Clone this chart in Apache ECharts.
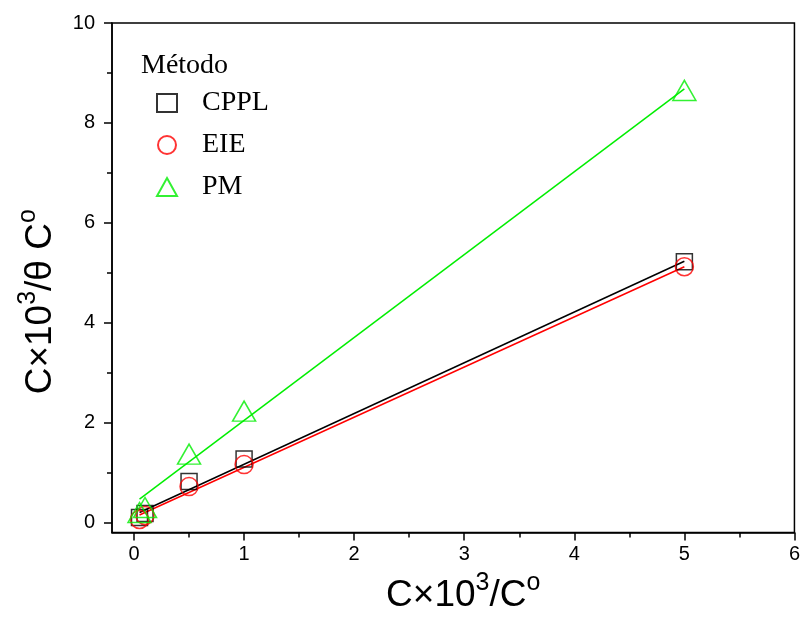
<!DOCTYPE html>
<html>
<head>
<meta charset="utf-8">
<script src="https://cdn.jsdelivr.net/npm/echarts@6/dist/echarts.min.js"></script>
<style>html,body{margin:0;padding:0;background:#fff;}#c{width:803px;height:619px;}</style>
</head>
<body>
<div id="c"></div>
<script>
// ---- data ----
var xValues = [0.05, 0.1, 0.5, 1, 5];
var cpplValues = [0.1, 0.18, 0.82, 1.27, 5.22];
var eieValues = [0.06, 0.14, 0.72, 1.16, 5.12];
var pmValues = [0.2, 0.3, 1.37, 2.23, 8.65];
// fitted straight lines, endpoints
var fitX = [0.05, 5];
var cpplFit = [0.2, 5.23];
var eieFit = [0.15, 5.12];
var pmFit = [0.47, 8.68];
var xTicks = [0, 1, 2, 3, 4, 5, 6];
var xMinorTicks = [0.5, 1.5, 2.5, 3.5, 4.5, 5.5];
var yTicks = [0, 2, 4, 6, 8, 10];
var yMinorTicks = [1, 3, 5, 7, 9];
var seriesNames = ['CPPL', 'EIE', 'PM'];
var legendTitle = 'Método';

function pairs(xs, ys) { return xs.map(function (x, i) { return [x, ys[i]]; }); }

var sans = 'Liberation Sans, Arial, sans-serif';
var serif = 'Liberation Serif, Times New Roman, serif';
var colors = ['#000000', '#ff0000', '#00ee00'];

function titleRich() {
  return {
    b: { fontSize: 37, fontFamily: sans, color: '#000', lineHeight: 50 },
    s: { fontSize: 25, fontFamily: sans, color: '#000', lineHeight: 24, verticalAlign: 'top' }
  };
}

var chart = echarts.init(document.getElementById('c'), null, { renderer: 'canvas' });
var option = {
  animation: false,
  backgroundColor: '#fff',
  title: {
    text: legendTitle, left: 136, top: 47,
    textStyle: { fontFamily: serif, fontSize: 28, fontWeight: 'normal', color: '#000' }
  },
  legend: {
    data: seriesNames,
    orient: 'vertical', left: 151, top: 84,
    itemWidth: 20, itemHeight: 18, itemGap: 14,
    textStyle: { fontFamily: serif, fontSize: 28, color: '#000', lineHeight: 28, padding: [0, 0, 0, 20] }
  },
  grid: { left: 112, top: 23, right: 4, bottom: 84, show: true, borderColor: '#000', borderWidth: 1.5, containLabel: false },
  xAxis: [{
    type: 'value', min: -0.2, max: 6, position: 'bottom',
    name: '{b|C×10}{s|3}{b|/C}{s|o}', nameLocation: 'middle', nameGap: 38,
    nameTextStyle: { rich: titleRich(), padding: [0, 0, 0, 20] },
    axisLine: { show: true, onZero: false, lineStyle: { color: '#000', width: 1.5 } },
    axisTick: { show: true, inside: false, length: 8, customValues: xTicks, lineStyle: { color: '#000', width: 1.5 } },
    axisLabel: { show: true, customValues: xTicks, margin: 12, fontFamily: sans, fontSize: 20, color: '#000' },
    splitLine: { show: false }
  }, {
    type: 'value', min: -0.2, max: 6, position: 'bottom',
    axisLine: { show: false, onZero: false },
    axisTick: { show: true, length: 5, customValues: xMinorTicks, lineStyle: { color: '#000', width: 1.5 } },
    axisLabel: { show: false },
    splitLine: { show: false }
  }],
  yAxis: [{
    type: 'value', min: -0.2, max: 10, position: 'left',
    name: '{b|C×10}{s|3}{b|/θ C}{s|o}', nameLocation: 'middle', nameGap: 46,
    nameTextStyle: { rich: titleRich(), padding: [0, 48, 0, 0] },
    axisLine: { show: true, onZero: false, lineStyle: { color: '#000', width: 1.5 } },
    axisTick: { show: true, length: 8, customValues: yTicks, lineStyle: { color: '#000', width: 1.5 } },
    axisLabel: { show: true, customValues: yTicks, margin: 17, fontFamily: sans, fontSize: 20, color: '#000' },
    splitLine: { show: false }
  }, {
    type: 'value', min: -0.2, max: 10, position: 'left',
    axisLine: { show: false, onZero: false },
    axisTick: { show: true, length: 5, customValues: yMinorTicks, lineStyle: { color: '#000', width: 1.5 } },
    axisLabel: { show: false },
    splitLine: { show: false }
  }],
  series: [
    { name: 'CPPL-fit', type: 'line', data: pairs(fitX, cpplFit), symbol: 'none', lineStyle: { color: colors[0], width: 1.5 }, z: 2 },
    { name: 'EIE-fit', type: 'line', data: pairs(fitX, eieFit), symbol: 'none', lineStyle: { color: colors[1], width: 1.5 }, z: 2 },
    { name: 'PM-fit', type: 'line', data: pairs(fitX, pmFit), symbol: 'none', lineStyle: { color: colors[2], width: 1.5 }, z: 2 },
    { name: seriesNames[0], type: 'scatter', data: pairs(xValues, cpplValues), symbol: 'rect', symbolSize: 16,
      itemStyle: { color: 'rgba(0,0,0,0)', borderColor: colors[0], borderWidth: 1.5 }, z: 3 },
    { name: seriesNames[1], type: 'scatter', data: pairs(xValues, eieValues), symbol: 'circle', symbolSize: 18,
      itemStyle: { color: 'rgba(0,0,0,0)', borderColor: colors[1], borderWidth: 1.5 }, z: 3 },
    { name: seriesNames[2], type: 'scatter', data: pairs(xValues, pmValues), symbol: 'triangle', symbolSize: [23, 20],
      itemStyle: { color: 'rgba(0,0,0,0)', borderColor: colors[2], borderWidth: 1.5 }, z: 3 }
  ]
};
chart.setOption(option);
</script>
</body>
</html>
